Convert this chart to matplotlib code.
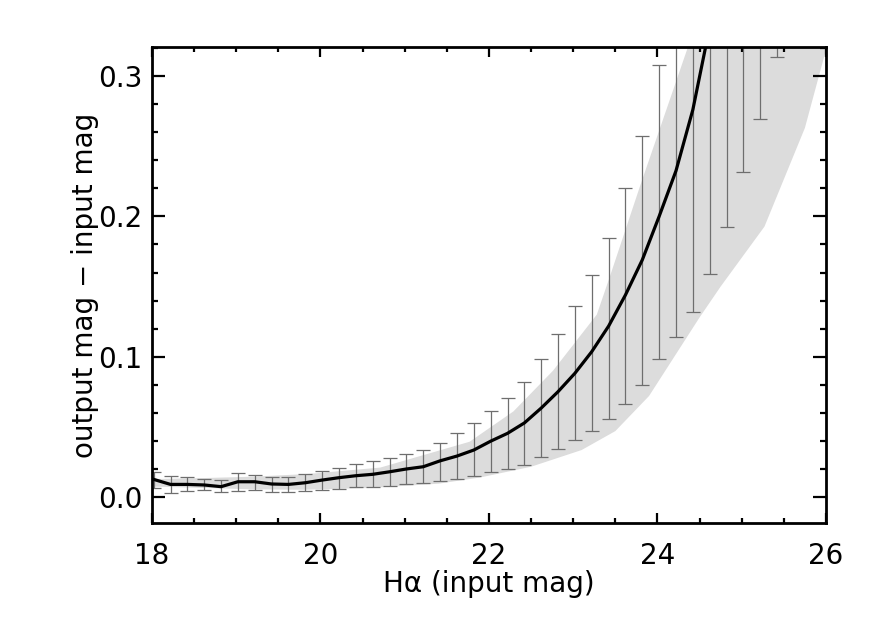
import numpy as np
import matplotlib
matplotlib.use("Agg")
import matplotlib.pyplot as plt
from matplotlib.ticker import MultipleLocator

# bin centres (input H-alpha mag)
mag = [18.02, 18.22, 18.42, 18.62, 18.82, 19.02, 19.22, 19.42, 19.62, 19.82,
       20.02, 20.22, 20.42, 20.62, 20.82, 21.02, 21.22, 21.42, 21.62, 21.82,
       22.02, 22.22, 22.42, 22.62, 22.82, 23.02, 23.22, 23.42, 23.62, 23.82,
       24.02, 24.22, 24.42, 24.62, 24.82, 25.02, 25.22, 25.42]
# mean offset (output - input)
dmag = [0.0126, 0.0090, 0.0090, 0.0086, 0.0074, 0.0109, 0.0109, 0.0093, 0.0090, 0.0102,
        0.0121, 0.0138, 0.0152, 0.0162, 0.0180, 0.0200, 0.0216, 0.0258, 0.0292, 0.0335,
        0.0398, 0.0454, 0.0528, 0.0634, 0.0751, 0.0882, 0.1036, 0.1218, 0.1440, 0.1690,
        0.2000, 0.2325, 0.2760, 0.3350, 0.4000, 0.4800, 0.5700, 0.6800]
# error bar limits
err_lo = [0.0065, 0.0031, 0.0043, 0.0048, 0.0033, 0.0043, 0.0048, 0.0038, 0.0036, 0.0043,
          0.0050, 0.0057, 0.0069, 0.0073, 0.0078, 0.0090, 0.0098, 0.0114, 0.0130, 0.0147,
          0.0176, 0.0200, 0.0226, 0.0283, 0.0344, 0.0404, 0.0474, 0.0554, 0.0665, 0.0796,
          0.0981, 0.1138, 0.1318, 0.1588, 0.1927, 0.2314, 0.2694, 0.3138]
err_hi = [0.0175, 0.0150, 0.0145, 0.0126, 0.0121, 0.0169, 0.0159, 0.0145, 0.0145, 0.0162,
          0.0187, 0.0207, 0.0233, 0.0257, 0.0280, 0.0309, 0.0335, 0.0383, 0.0454, 0.0525,
          0.0613, 0.0708, 0.0817, 0.0984, 0.1160, 0.1363, 0.1580, 0.1848, 0.2200, 0.2573,
          0.3078, 0.3510, 0.4200, 0.5100, 0.6100, 0.7300, 0.8700, 1.0500]

# shaded envelope
band_up_x = [18.0, 18.6, 19.2, 19.84, 20.71, 21.77, 22.29, 22.76, 23.28, 23.44, 23.79, 24.35, 24.6, 26.0]
band_up_y = [0.0128, 0.0135, 0.0145, 0.0164, 0.0210, 0.0394, 0.0610, 0.090, 0.130, 0.158, 0.221, 0.3186, 0.37, 0.37]
band_lo_x = [18.0, 18.6, 19.2, 19.8, 20.6, 21.4, 21.9, 22.5, 23.1, 23.5, 23.9, 24.5, 24.75, 25.27, 25.75, 26.0]
band_lo_y = [0.0075, 0.0065, 0.0055, 0.0052, 0.0065, 0.0095, 0.014, 0.0216, 0.0335, 0.047, 0.072, 0.128, 0.150, 0.1927, 0.263, 0.3186]

fig = plt.figure(figsize=(8.72, 6.23), dpi=100)
ax = fig.add_axes([0.1743, 0.1605, 0.7729, 0.7641])

poly_x = band_up_x + band_lo_x[::-1]
poly_y = band_up_y + band_lo_y[::-1]
ax.fill(poly_x, poly_y, color="#dcdcdc", lw=0, zorder=1)

x = np.array(mag)
y = np.array(dmag)
yerr = [y - np.array(err_lo), np.array(err_hi) - y]
ax.errorbar(x, y, yerr=yerr, fmt="none", ecolor="#6e6e6e", elinewidth=0.9,
            capsize=5, capthick=0.9, zorder=2)
ax.plot(x, y, color="black", lw=2.3, zorder=3)

ax.set_xlim(18, 26)
ax.set_ylim(-0.0185, 0.3207)
ax.xaxis.set_major_locator(MultipleLocator(2))
ax.xaxis.set_minor_locator(MultipleLocator(0.5))
ax.yaxis.set_major_locator(MultipleLocator(0.1))
ax.yaxis.set_minor_locator(MultipleLocator(0.02))
ax.yaxis.set_major_formatter(plt.FuncFormatter(lambda v, p: "%.1f" % v))

for s in ax.spines.values():
    s.set_linewidth(2.0)
ax.tick_params(which="both", direction="in", top=True, right=True, width=1.6,
               labelsize=20)
ax.tick_params(axis="x", which="major", length=7, pad=14)
ax.tick_params(axis="x", which="minor", length=3.5)
ax.tick_params(axis="y", which="major", length=9.5, pad=7)
ax.tick_params(axis="y", which="minor", length=4.5)

ax.set_xlabel("H\u03b1 (input mag)", fontsize=20, labelpad=0)
ax.set_ylabel("output mag \u2212 input mag", fontsize=20, labelpad=-1)

fig.savefig("out.png", dpi=100)
